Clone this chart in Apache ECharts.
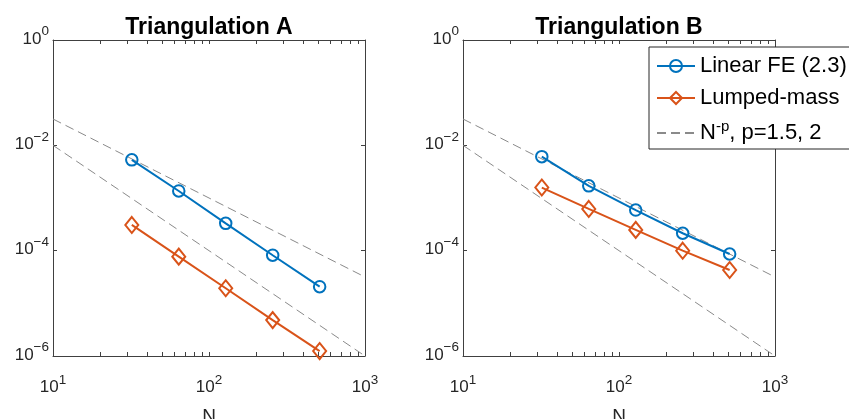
<!DOCTYPE html>
<html>
<head>
<meta charset="utf-8">
<script src="https://cdn.jsdelivr.net/npm/echarts@6/dist/echarts.min.js"></script>
<style>html,body{margin:0;padding:0;background:#fff}#c{width:849px;height:419px}</style>
</head>
<body>
<div id="c"></div>
<script>
// ---- data ----
var N = [32, 64, 128, 256, 512];
var feA = [5.3e-3, 1.36e-3, 3.3e-4, 8.2e-5, 2.07e-5];
var lumpA = [3.08e-4, 7.7e-5, 1.93e-5, 4.8e-6, 1.24e-6];
var feB = [6.1e-3, 1.7e-3, 5.9e-4, 2.14e-4, 8.65e-5];
var lumpB = [1.58e-3, 6.2e-4, 2.48e-4, 1.0e-4, 4.3e-5];
var refN = [10, 1000];
var ref15 = [3.1623e-2, 3.1623e-5];
var ref20 = [1e-2, 1e-6];
var xMajor = [10, 100, 1000];
var xTicks = [10, 20, 30, 40, 50, 60, 70, 80, 90, 100, 200, 300, 400, 500, 600, 700, 800, 900, 1000];
var yMajor = [1e-6, 1e-4, 1e-2, 1];
var titles = ['Triangulation A', 'Triangulation B'];
var names = ['Linear FE (2.3)', 'Lumped-mass', 'N^-p, p=1.5, 2'];

var FONT = 'Liberation Sans, Arial, Helvetica, sans-serif';
var AX = '#404040';
var BLUE = '#0072BD', ORANGE = '#D95319', GREY = '#8a8a8a';

function pair(xs, ys) { return xs.map(function (x, i) { return [x, ys[i]]; }); }
function powLabel(v) {
  var e = Math.round(Math.log(v) / Math.LN10);
  return '{b|10}{s|' + String(e).replace('-', '\u2212') + '}';
}
var rich = {
  b: { fontSize: 17, lineHeight: 17, padding: [0, 0, 6, 0], color: '#262626', fontFamily: FONT, verticalAlign: 'bottom' },
  s: { fontSize: 13.5, lineHeight: 13, padding: [0, 0, 15, 0], color: '#262626', fontFamily: FONT, verticalAlign: 'bottom' }
};

var grids = [
  { left: 53, top: 40, width: 312, height: 316, outerBoundsMode: 'none', containLabel: false },
  { left: 463, top: 40, width: 312, height: 316, outerBoundsMode: 'none', containLabel: false }
];
var xAxes = [], yAxes = [], series = [], titleArr = [];
grids.forEach(function (g, gi) {
  titleArr.push({
    text: titles[gi], left: g.left + g.width / 2 - 5, top: 11, textAlign: 'center',
    textStyle: { fontSize: 23, fontWeight: 'bold', color: '#000', fontFamily: FONT }
  });
  ['bottom', 'top'].forEach(function (pos, k) {
    xAxes.push({
      type: 'log', logBase: 10, min: 10, max: 1000, gridIndex: gi, position: pos,
      name: k === 0 ? 'N' : '', nameLocation: 'middle', nameGap: 41,
      nameTextStyle: { fontSize: 19, color: '#262626', fontFamily: FONT },
      axisLine: { show: true, onZero: false, lineStyle: { color: AX, width: 1 } },
      axisTick: { show: true, inside: true, length: 4, customValues: xTicks, lineStyle: { color: AX } },
      axisLabel: k === 0 ? { show: true, margin: 29, customValues: xMajor, formatter: powLabel, rich: rich } : { show: false },
      splitLine: { show: false }, minorTick: { show: false }
    });
  });
  ['left', 'right'].forEach(function (pos, k) {
    yAxes.push({
      type: 'log', logBase: 10, min: 1e-6, max: 1, gridIndex: gi, position: pos,
      axisLine: { show: true, onZero: false, lineStyle: { color: AX, width: 1 } },
      axisTick: { show: true, inside: true, length: 4, customValues: yMajor, lineStyle: { color: AX } },
      axisLabel: k === 0 ? { show: true, margin: 4, padding: [10, 0, 0, 0], customValues: yMajor, formatter: powLabel, rich: rich } : { show: false },
      splitLine: { show: false }, minorTick: { show: false }
    });
  });
  var xi = gi * 2, yi = gi * 2;
  [ref15, ref20].forEach(function (r) {
    series.push({
      name: names[2], type: 'line', xAxisIndex: xi, yAxisIndex: yi, data: pair(refN, r),
      symbol: 'none', silent: true, z: 1,
      itemStyle: { color: 'transparent', borderWidth: 0 },
      lineStyle: { color: GREY, width: 1, type: [9, 5] }
    });
  });
  var fe = gi === 0 ? feA : feB;
  var lm = gi === 0 ? lumpA : lumpB;
  series.push({
    name: names[0], type: 'line', xAxisIndex: xi, yAxisIndex: yi, data: pair(N, fe),
    symbol: 'circle', symbolSize: 11.5, z: 3,
    itemStyle: { color: 'transparent', borderColor: BLUE, borderWidth: 2 },
    lineStyle: { color: BLUE, width: 2 }
  });
  series.push({
    name: names[1], type: 'line', xAxisIndex: xi, yAxisIndex: yi, data: pair(N, lm),
    symbol: 'diamond', symbolSize: [13, 16], z: 3,
    itemStyle: { color: 'transparent', borderColor: ORANGE, borderWidth: 2 },
    lineStyle: { color: ORANGE, width: 2 }
  });
});

var chart = echarts.init(document.getElementById('c'), null, { renderer: 'canvas' });
chart.setOption({
  animation: false,
  backgroundColor: '#fff',
  textStyle: { fontFamily: FONT },
  title: titleArr,
  grid: grids,
  xAxis: xAxes,
  yAxis: yAxes,
  legend: {
    data: names, orient: 'vertical', left: 649, top: 47,
    padding: [8, 80, 5, 7], itemWidth: 38, itemHeight: 15, itemGap: 10,
    backgroundColor: '#fff', borderColor: '#262626', borderWidth: 1, borderRadius: 0,
    selectedMode: false,
    textStyle: {
      fontSize: 22, lineHeight: 22, color: '#000', fontFamily: FONT,
      rich: {
        n: { fontSize: 22, lineHeight: 22, color: '#000', fontFamily: FONT, verticalAlign: 'bottom' },
        s: { fontSize: 15, lineHeight: 15, padding: [0, 0, 10, 0], color: '#000', fontFamily: FONT, verticalAlign: 'bottom' }
      }
    },
    formatter: function (name) {
      if (name === names[2]) return '{n|N}{s|-p}{n|, p=1.5, 2}';
      return name;
    }
  },
  series: series
});
</script>
</body>
</html>
